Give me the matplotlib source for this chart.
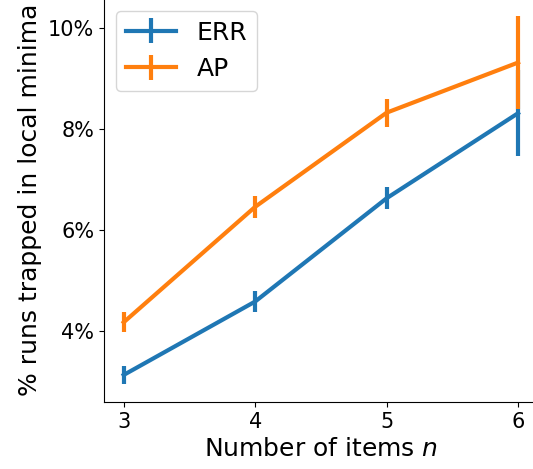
import numpy as np
import matplotlib.pyplot as plt
from matplotlib.ticker import PercentFormatter

n_items = [3, 4, 5, 6]
err_mean = [3.14, 4.59, 6.63, 8.31]
err_sd = [0.17, 0.2, 0.22, 0.85]
ap_mean = [4.18, 6.46, 8.32, 9.31]
ap_sd = [0.2, 0.22, 0.28, 0.91]

fig = plt.figure(figsize=(5.33, 4.69), dpi=100)
ax = fig.add_axes([0.195, 0.143, 0.814, 0.861])

ax.errorbar(n_items, err_mean, yerr=err_sd, lw=3, elinewidth=3, label='ERR')
ax.errorbar(n_items, ap_mean, yerr=ap_sd, lw=3, elinewidth=3, label='AP')

ax.set_xticks(n_items)
ax.set_yticks([4, 6, 8, 10])
ax.yaxis.set_major_formatter(PercentFormatter(decimals=0))
ax.tick_params(labelsize=15)
ax.set_xlabel('Number of items $n$', fontsize=18)
ax.set_ylabel('% runs trapped in local minima', fontsize=18)
ax.spines['top'].set_visible(False)
ax.spines['right'].set_visible(False)
ax.legend(loc='upper left', fontsize=18)

fig.savefig('out.png', dpi=100)
